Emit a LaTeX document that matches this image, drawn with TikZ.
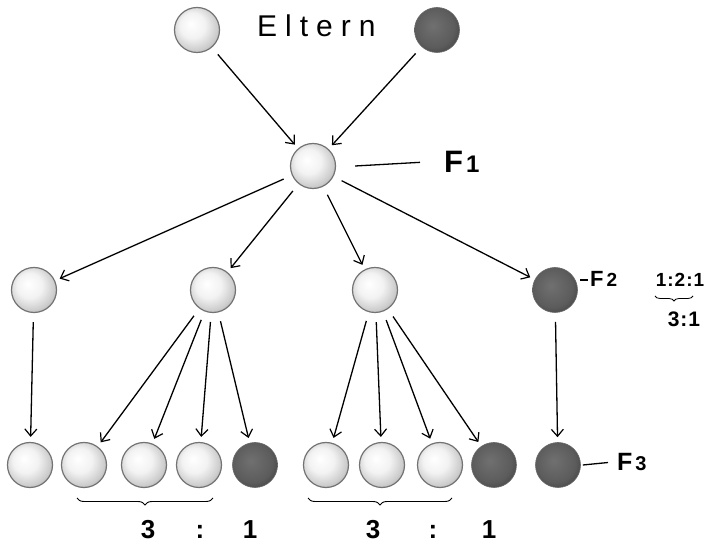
\documentclass[tikz,border=0pt]{standalone}
\usepackage{fontspec}
\setmainfont{Liberation Sans}
\usetikzlibrary{arrows.meta,decorations.pathreplacing}
\pgfdeclareradialshading{lightball}{\pgfpoint{-7bp}{7bp}}{color(0bp)=(white); color(14bp)=(black!5); color(26bp)=(black!20); color(33bp)=(black!36); color(50bp)=(black!36)}
\pgfdeclareradialshading{darkball}{\pgfpoint{-5bp}{5bp}}{color(0bp)=(black!56); color(22bp)=(black!64); color(32bp)=(black!74); color(50bp)=(black!74)}
\newcommand{\fs}[1]{\fontsize{#1}{#1}\selectfont}
\begin{document}
\begin{tikzpicture}[x=1pt,y=-1pt,
  lball/.style={circle,minimum size=45pt,inner sep=0pt,shading=lightball,draw=black!55,line width=1.2pt},
  dball/.style={circle,minimum size=45pt,inner sep=0pt,shading=darkball,draw=black!60,line width=0.6pt},
  arr/.style={-{Straight Barb[length=7pt,width=12pt,line width=1.2pt]},line width=1.3pt,shorten <=9pt,shorten >=5pt},
  lw/.style={line width=1.3pt},
  lbl/.style={inner sep=0pt},
  brc/.style={decorate,decoration={brace,amplitude=7pt},line width=0.9pt}]
\useasboundingbox (0,0) rectangle (716,545);
\fill[white] (0,0) rectangle (716,545);
% parents
\node[lball] (p1) at (197,30) {};
\node[dball] (p2) at (437,30) {};
\node[lbl,anchor=base west,font=\fs{30}] (elt) at (257,37) {E\kern8pt l\kern8pt t\kern8pt e\kern8pt r\kern8pt n};
% F1
\node[lball] (f1) at (313,166) {};
\node[lbl,anchor=base west,font=\bfseries] (F1) at (444,173) {{\fs{31}F}\kern3pt{\fs{24}1}};
\draw[lw] ([xshift=19pt]f1.east) -- ([xshift=-24pt]F1.west);
% F2
\node[lball] (f2a) at (34,290) {};
\node[lball] (f2b) at (213,290) {};
\node[lball] (f2c) at (375,290) {};
\node[dball] (f2d) at (555,290) {};
\node[lbl,anchor=base west,font=\bfseries] (F2) at (590,287) {{\fs{22}F}\kern3pt{\fs{19}2}};
\coordinate (d2a) at (580,280);
\coordinate (d2b) at (588,280);
\draw[lw] (d2a) -- (d2b);
\node[lbl,anchor=base,font=\fs{19}\bfseries] (r121) at (680,287) {1\kern1pt:\kern1pt2\kern1pt:\kern1pt1};
\coordinate (b0a) at (693,296);
\coordinate (b0b) at (655,296);
\draw[brc,decoration={amplitude=5pt},line width=0.8pt] (b0a) -- (b0b);
\node[lbl,anchor=base,font=\fs{21}\bfseries] (r31) at (684,327) {3\kern1pt:\kern1pt1};
% F3
\node[lball] (f3a) at (30,465) {};
\node[lball] (f3b) at (84,465) {};
\node[lball] (f3c) at (144,465) {};
\node[lball] (f3d) at (199,465) {};
\node[dball] (f3e) at (255,465) {};
\node[lball] (f3f) at (326,465) {};
\node[lball] (f3g) at (382,465) {};
\node[lball] (f3h) at (440,465) {};
\node[dball] (f3i) at (494,465) {};
\node[dball] (f3j) at (558,465) {};
\node[lbl,anchor=base west,font=\bfseries] (F3) at (617,471) {{\fs{25}F}\kern3pt{\fs{20}3}};
\draw[lw] ([xshift=2pt]f3j.east) -- ([xshift=-9pt]F3.west);
% arrows
\draw[arr] (p1) -- (f1);
\draw[arr] (p2) -- (f1);
\draw[arr] (f1) -- (f2a);
\draw[arr] (f1) -- (f2b);
\draw[arr] (f1) -- (f2c);
\draw[arr] (f1) -- (f2d);
\draw[arr] (f2a) -- (f3a);
\draw[arr] (f2b) -- (f3b);
\draw[arr] (f2b) -- (f3c);
\draw[arr] (f2b) -- (f3d);
\draw[arr] (f2b) -- (f3e);
\draw[arr] (f2c) -- (f3f);
\draw[arr] (f2c) -- (f3g);
\draw[arr] (f2c) -- (f3h);
\draw[arr] (f2c) -- (f3i);
\draw[arr] (f2d) -- (f3j);
% braces
\coordinate (b1a) at (213,498);
\coordinate (b1b) at (77,498);
\coordinate (b2a) at (452,498);
\coordinate (b2b) at (308,498);
\draw[brc] (b1a) -- (b1b);
\draw[brc] (b2a) -- (b2b);
% ratios
\begin{scope}[every node/.style={lbl,anchor=base,font=\fs{26}\bfseries}]
\node (t1) at (148,539) {3};
\node (c1) at (200,539) {:};
\node (o1) at (250,539) {1};
\node (t2) at (373,539) {3};
\node (c2) at (433,539) {:};
\node (o2) at (489,539) {1};
\end{scope}
\end{tikzpicture}
\end{document}
